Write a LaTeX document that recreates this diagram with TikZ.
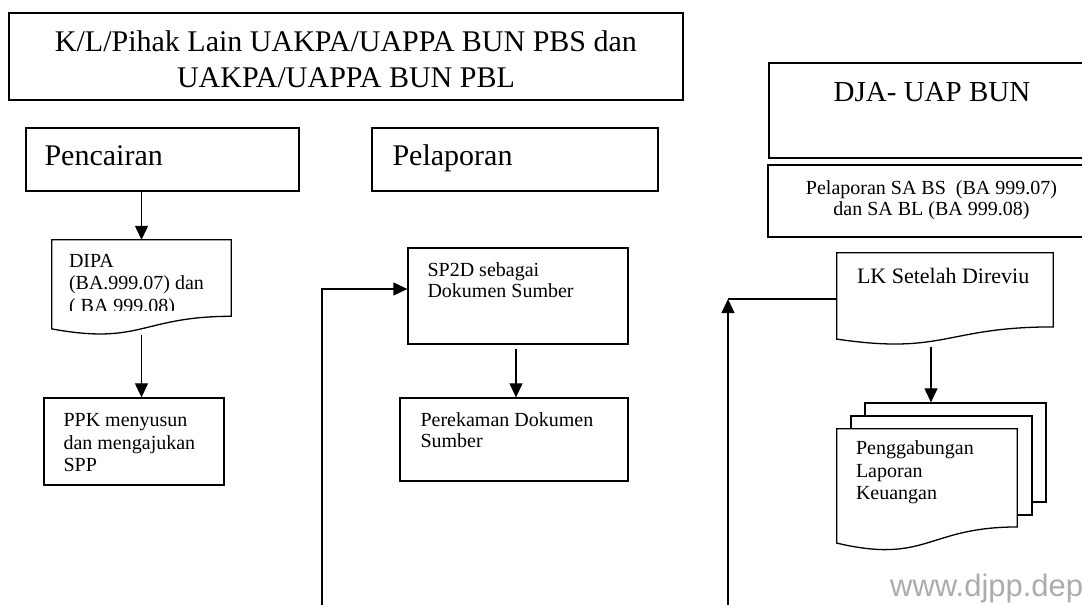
\documentclass[tikz,border=0pt]{standalone}
\usepackage{fontspec}
\setmainfont{Liberation Serif}
\newfontfamily\wmfont{Liberation Sans}
\usetikzlibrary{arrows.meta,calc}
\definecolor{wmgray}{RGB}{172,172,172}
% document outline with wavy bottom edge, drawn around a named node
\newcommand\docoutline[1]{%
  \draw[docline] (#1.north west) -- (#1.north east)
    -- ($(#1.north east)!0.802!(#1.south east)$)
    .. controls ($(#1.north)!0.802!(#1.south)$) and ($(#1.north)!1.107!(#1.south)$)
    .. ($(#1.north west)!0.934!(#1.south west)$) -- cycle;}
\begin{document}
\begin{tikzpicture}[x=1pt,y=-1pt,
  frame/.style={draw, line width=1.3pt, fill=white, inner sep=0pt},
  docnode/.style={inner sep=0pt},
  docline/.style={line width=1.3pt, draw, fill=white, line join=miter},
  conn/.style={line width=1.2pt},
  arr/.style={conn, -{Triangle[length=14pt,width=13pt]}},
  bigtxt/.style={font=\fontsize{30}{36}\selectfont, inner sep=0pt},
  txt/.style={font=\fontsize{20}{22.5}\selectfont, inner sep=0pt, align=left, anchor=north west},
]
\useasboundingbox (0,0) rectangle (1082,605);

% header
\node[frame, minimum width=674, minimum height=87] (head) at (346,56.5) {};
\node[bigtxt, align=center, anchor=north] (headtxt) at ($(head.north)+(0,18.5)$)
  {K/L/Pihak Lain UAKPA/UAPPA BUN PBS dan\\UAKPA/UAPPA BUN PBL};

% column titles
\node[frame, minimum width=273, minimum height=63] (penc) at (162.5,159.5) {};
\node[bigtxt, anchor=north west] (penctxt) at ($(penc.north west)+(19,18)$) {Pencairan};
\node[frame, minimum width=286, minimum height=63] (lapor) at (515,159.5) {};
\node[bigtxt, anchor=north west] (laportxt) at ($(lapor.north west)+(21,17.5)$) {Pelaporan};

% DJA column
\node[frame, minimum width=326, minimum height=95] (dja) at (932,110.5) {};
\node[font=\fontsize{29}{34}\selectfont, inner sep=0pt, anchor=north] (djatxt) at ($(dja.north)+(0,20)$) {DJA- UAP BUN};
\node[frame, minimum width=327, minimum height=72] (sa) at (931.5,201) {};
\node[txt, align=center, anchor=north, font=\fontsize{20}{21}\selectfont] (satxt) at ($(sa.north)+(0,16)$)
  {Pelaporan SA BS\ \ (BA 999.07)\\dan SA BL (BA 999.08)};

% Pencairan column
\node[docnode, minimum width=179, minimum height=95] (dipa) at (141.5,287.5) {};
\docoutline{dipa}
\begin{scope}
  \clip (dipa.north west) rectangle ($(dipa.north east)+(0,71)$);
  \node[txt] (dipatxt) at ($(dipa.north west)+(17,14)$) {DIPA\\(BA.999.07) dan\\( BA 999.08)};
\end{scope}
\node[frame, minimum width=180, minimum height=87] (ppk) at (134,441.5) {};
\node[txt] (ppktxt) at ($(ppk.north west)+(20,16)$) {PPK menyusun\\dan mengajukan\\SPP};

% Pelaporan column
\node[frame, minimum width=220, minimum height=96] (sp2d) at (518,296) {};
\node[txt, font=\fontsize{20}{21}\selectfont] (sp2dtxt) at ($(sp2d.north west)+(20,15.3)$) {SP2D sebagai\\Dokumen Sumber};
\node[frame, minimum width=228, minimum height=83] (rek) at (514,439.5) {};
\node[txt, font=\fontsize{20}{21}\selectfont] (rektxt) at ($(rek.north west)+(21,15.3)$) {Perekaman Dokumen\\Sumber};

% DJA flow
\node[docnode, minimum width=216, minimum height=92] (lk) at (945,299) {};
\docoutline{lk}
\node[txt, font=\fontsize{22}{25}\selectfont] (lktxt) at ($(lk.north west)+(20,15)$) {LK Setelah Direviu};

\node[frame, minimum width=181, minimum height=99] (back) at (955.5,452.5) {};
\node[frame, minimum width=181, minimum height=99] (mid) at (941.5,465.5) {};
\node[docnode, minimum width=180, minimum height=122] (front) at (927,490) {};
\docoutline{front}
\node[txt] (fronttxt) at ($(front.north west)+(19,12)$) {Penggabungan\\Laporan\\Keuangan};

% connectors
\draw[arr] (penc.south -| dipa.north) -- (dipa.north);
\draw[arr] (dipa.south) -- (dipa.south |- ppk.north);
\coordinate (sp2dout) at ($(sp2d.south)+(-2,4)$);
\draw[arr] (sp2dout) -- (sp2dout |- rek.north);
\coordinate (fbA) at (322,605);
\coordinate (sp2din) at ($(sp2d.west)+(0,-7)$);
\draw[arr] (fbA) |- (sp2din);
\coordinate (fbB) at (728,605);
\draw[conn] (lk.west) -- (lk.west -| fbB);
\draw[arr] (fbB) -- (lk.west -| fbB);
\coordinate (lkout) at ($(lk.south)+(-14,2)$);
\draw[arr] (lkout) -- (lkout |- back.north);

% watermark
\node[font=\wmfont\fontsize{31}{33}\selectfont, text=wmgray, anchor=base west, inner sep=0pt] (wm) at (890,596) {www.djpp.dep};
\end{tikzpicture}
\end{document}
